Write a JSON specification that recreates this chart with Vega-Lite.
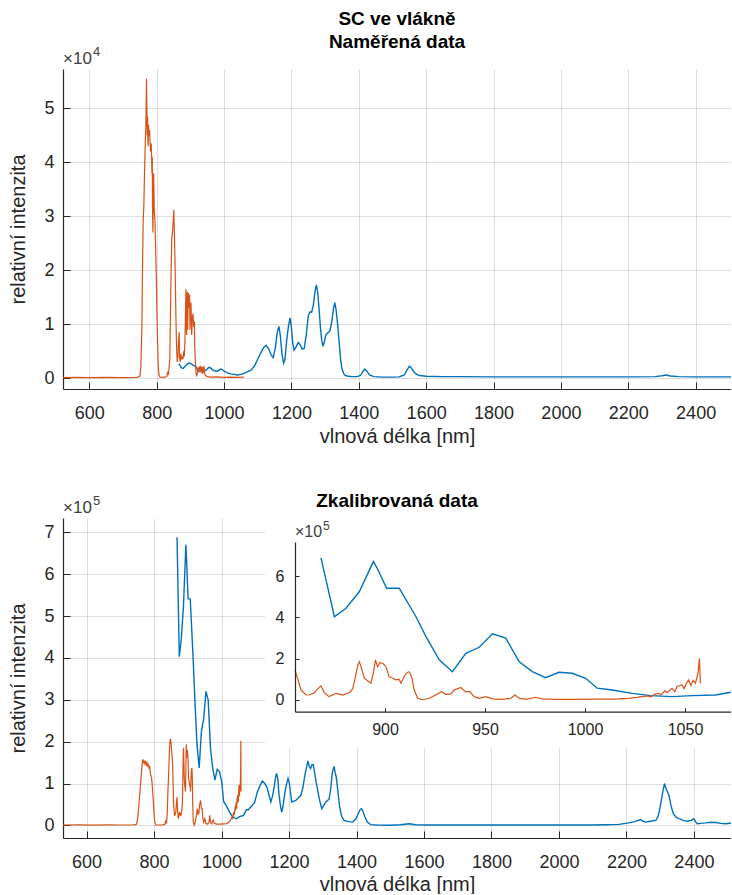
{
  "$schema": "https://vega.github.io/schema/vega-lite/v6.json",
  "background": "white",
  "padding": {"left": 8, "top": 10, "right": 0, "bottom": 0},
  "config": {
    "font": "Liberation Sans",
    "view": {"stroke": null},
    "axis": {
      "domainColor": "#262626", "domainWidth": 1.2,
      "tickColor": "#262626", "tickSize": -7,
      "labelColor": "#262626", "labelFontSize": 18, "labelFont": "Liberation Sans",
      "titleColor": "#262626", "titleFontSize": 20, "titleFontWeight": "normal", "titleFont": "Liberation Sans",
      "gridColor": "#262626", "gridOpacity": 0.15,
      "labelFlush": false, "labelOverlap": false
    },
    "title": {"fontSize": 19, "fontWeight": "bold", "color": "#000000", "font": "Liberation Sans", "anchor": "middle", "frame": "group"}
  },
  "datasets": {
    "rawOrange": [
      {"nm":522,"I":100},{"nm":560,"I":150},{"nm":600,"I":100},{"nm":650,"I":150},{"nm":700,"I":120},{"nm":740,"I":150},{"nm":750,"I":300},
      {"nm":753,"I":2000},{"nm":756,"I":9000},{"nm":758,"I":20000},{"nm":760,"I":29000},{"nm":762,"I":32000},{"nm":764,"I":38000},{"nm":766,"I":43000},
      {"nm":768,"I":47000},{"nm":770,"I":55500},{"nm":771,"I":50000},{"nm":772,"I":45000},{"nm":773,"I":48500},{"nm":774,"I":44000},{"nm":775,"I":43000},
      {"nm":776,"I":47000},{"nm":777,"I":45000},{"nm":779,"I":46000},{"nm":780,"I":44500},{"nm":782,"I":42000},{"nm":784,"I":43500},{"nm":786,"I":38000},
      {"nm":787,"I":41000},{"nm":788,"I":30000},{"nm":789,"I":27000},{"nm":790,"I":35000},{"nm":791,"I":38000},{"nm":793,"I":31000},{"nm":795,"I":29000},
      {"nm":797,"I":24000},{"nm":799,"I":19000},{"nm":801,"I":12000},{"nm":803,"I":6000},{"nm":805,"I":2000},{"nm":807,"I":600},{"nm":810,"I":200},
      {"nm":820,"I":150},{"nm":830,"I":300},{"nm":833,"I":1200},{"nm":835,"I":600},{"nm":837,"I":2000},{"nm":839,"I":3500},{"nm":841,"I":12000},
      {"nm":843,"I":20000},{"nm":845,"I":26000},{"nm":847,"I":27000},{"nm":849,"I":29000},{"nm":851,"I":31200},{"nm":853,"I":26000},{"nm":855,"I":20000},
      {"nm":857,"I":12000},{"nm":859,"I":6000},{"nm":861,"I":3000},{"nm":863,"I":4000},{"nm":865,"I":7000},{"nm":867,"I":8500},{"nm":868,"I":4000},
      {"nm":870,"I":3000},{"nm":872,"I":4500},{"nm":874,"I":3500},{"nm":876,"I":4000},{"nm":878,"I":3500},{"nm":880,"I":5000},{"nm":882,"I":4000},
      {"nm":884,"I":7000},{"nm":886,"I":13000},{"nm":887,"I":16500},{"nm":888,"I":10000},{"nm":889,"I":8000},{"nm":890,"I":14000},{"nm":891,"I":16000},
      {"nm":892,"I":9000},{"nm":894,"I":15800},{"nm":896,"I":13000},{"nm":898,"I":15500},{"nm":899,"I":9000},{"nm":900,"I":12000},{"nm":902,"I":14000},
      {"nm":904,"I":8000},{"nm":906,"I":11000},{"nm":908,"I":12000},{"nm":910,"I":9500},{"nm":912,"I":10500},{"nm":913,"I":6000},{"nm":915,"I":3000},
      {"nm":917,"I":1000},{"nm":919,"I":500},{"nm":921,"I":800},{"nm":923,"I":2000},{"nm":925,"I":1500},{"nm":927,"I":2200},{"nm":929,"I":1200},
      {"nm":931,"I":2300},{"nm":933,"I":1000},{"nm":935,"I":2000},{"nm":937,"I":800},{"nm":940,"I":2300},{"nm":942,"I":1000},{"nm":945,"I":500},
      {"nm":950,"I":300},{"nm":960,"I":200},{"nm":980,"I":250},{"nm":1000,"I":150},{"nm":1020,"I":200},{"nm":1040,"I":150},{"nm":1059,"I":200}
    ],
    "rawBlue": [
      {"nm":866,"I":2700},{"nm":870,"I":2300},{"nm":874,"I":1900},{"nm":878,"I":1800},{"nm":882,"I":2000},{"nm":886,"I":2300},{"nm":891,"I":2600},
      {"nm":896,"I":2800},{"nm":900,"I":2750},{"nm":904,"I":2600},{"nm":908,"I":2400},{"nm":912,"I":2300},{"nm":916,"I":2200},{"nm":920,"I":1700},
      {"nm":924,"I":1300},{"nm":928,"I":1200},{"nm":932,"I":1500},{"nm":936,"I":1900},{"nm":940,"I":1700},{"nm":945,"I":1400},{"nm":950,"I":1700},
      {"nm":955,"I":2000},{"nm":960,"I":1900},{"nm":965,"I":1600},{"nm":970,"I":1400},{"nm":975,"I":1300},{"nm":980,"I":1300},{"nm":985,"I":1500},
      {"nm":990,"I":1700},{"nm":995,"I":1600},{"nm":1000,"I":1300},{"nm":1010,"I":1000},{"nm":1020,"I":800},{"nm":1030,"I":700},{"nm":1040,"I":600},
      {"nm":1050,"I":700},{"nm":1060,"I":900},{"nm":1070,"I":1200},{"nm":1080,"I":1500},{"nm":1090,"I":2200},{"nm":1100,"I":3500},{"nm":1110,"I":4800},
      {"nm":1118,"I":5700},{"nm":1125,"I":6100},{"nm":1132,"I":5500},{"nm":1140,"I":4300},{"nm":1146,"I":3800},{"nm":1152,"I":5500},{"nm":1158,"I":8500},
      {"nm":1163,"I":9600},{"nm":1167,"I":8000},{"nm":1172,"I":4500},{"nm":1177,"I":2800},{"nm":1181,"I":3500},{"nm":1186,"I":7000},{"nm":1191,"I":9500},
      {"nm":1196,"I":11200},{"nm":1200,"I":9500},{"nm":1204,"I":6500},{"nm":1208,"I":5200},{"nm":1214,"I":5800},{"nm":1220,"I":6600},{"nm":1226,"I":6200},
      {"nm":1232,"I":5400},{"nm":1238,"I":5500},{"nm":1244,"I":8000},{"nm":1250,"I":11500},{"nm":1255,"I":12300},{"nm":1260,"I":12200},{"nm":1265,"I":13500},
      {"nm":1270,"I":16000},{"nm":1274,"I":17300},{"nm":1278,"I":16000},{"nm":1282,"I":13000},{"nm":1286,"I":9500},{"nm":1290,"I":7000},{"nm":1294,"I":5900},
      {"nm":1298,"I":6800},{"nm":1302,"I":8000},{"nm":1308,"I":8400},{"nm":1314,"I":8700},{"nm":1320,"I":10500},{"nm":1325,"I":13000},{"nm":1329,"I":14000},
      {"nm":1333,"I":12500},{"nm":1338,"I":9500},{"nm":1342,"I":6500},{"nm":1346,"I":3500},{"nm":1350,"I":1800},{"nm":1355,"I":900},{"nm":1360,"I":500},
      {"nm":1370,"I":350},{"nm":1380,"I":300},{"nm":1395,"I":300},{"nm":1405,"I":500},{"nm":1412,"I":1200},{"nm":1418,"I":1700},{"nm":1424,"I":1300},
      {"nm":1432,"I":600},{"nm":1445,"I":300},{"nm":1470,"I":200},{"nm":1500,"I":200},{"nm":1520,"I":250},{"nm":1535,"I":600},{"nm":1543,"I":1500},
      {"nm":1550,"I":2200},{"nm":1555,"I":2000},{"nm":1562,"I":1300},{"nm":1570,"I":800},{"nm":1580,"I":500},{"nm":1600,"I":350},{"nm":1650,"I":300},
      {"nm":1700,"I":300},{"nm":1800,"I":250},{"nm":1900,"I":250},{"nm":2000,"I":250},{"nm":2100,"I":250},{"nm":2200,"I":250},{"nm":2280,"I":300},
      {"nm":2300,"I":450},{"nm":2312,"I":600},{"nm":2325,"I":400},{"nm":2350,"I":300},{"nm":2400,"I":250},{"nm":2450,"I":250},{"nm":2505,"I":250}
    ],
    "calOrange": [
      {"nm":530,"I":1000},{"nm":580,"I":1500},{"nm":620,"I":800},{"nm":660,"I":1200},{"nm":700,"I":1000},{"nm":740,"I":1500},{"nm":748,"I":3000},
      {"nm":752,"I":20000},{"nm":756,"I":60000},{"nm":760,"I":100000},{"nm":763,"I":130000},{"nm":765,"I":150000},{"nm":767,"I":158000},{"nm":769,"I":148000},
      {"nm":771,"I":155000},{"nm":773,"I":147000},{"nm":775,"I":152000},{"nm":777,"I":145000},{"nm":779,"I":150000},{"nm":781,"I":142000},{"nm":783,"I":145000},
      {"nm":785,"I":138000},{"nm":787,"I":140000},{"nm":789,"I":125000},{"nm":791,"I":118000},{"nm":793,"I":110000},{"nm":795,"I":90000},{"nm":797,"I":65000},
      {"nm":799,"I":40000},{"nm":801,"I":15000},{"nm":803,"I":5000},{"nm":806,"I":1500},{"nm":815,"I":1000},{"nm":825,"I":1500},{"nm":832,"I":3000},
      {"nm":835,"I":12000},{"nm":837,"I":5000},{"nm":839,"I":30000},{"nm":841,"I":80000},{"nm":843,"I":120000},{"nm":845,"I":170000},{"nm":847,"I":200000},
      {"nm":849,"I":207000},{"nm":851,"I":190000},{"nm":853,"I":170000},{"nm":855,"I":145000},{"nm":856.5,"I":97000},{"nm":858,"I":48000},{"nm":860.5,"I":24000},
      {"nm":862,"I":25000},{"nm":864.5,"I":32000},{"nm":866,"I":50000},{"nm":868,"I":68000},{"nm":869.7,"I":35000},{"nm":872,"I":16000},{"nm":874,"I":25000},
      {"nm":875.5,"I":32000},{"nm":877,"I":28000},{"nm":879,"I":23000},{"nm":880.5,"I":30000},{"nm":882,"I":35000},{"nm":883.8,"I":52000},{"nm":884.5,"I":80000},
      {"nm":885.5,"I":129000},{"nm":886.5,"I":170000},{"nm":887.2,"I":185000},{"nm":888,"I":160000},{"nm":888.5,"I":145000},{"nm":889.7,"I":105000},
      {"nm":891.3,"I":93000},{"nm":893,"I":81000},{"nm":894.3,"I":137000},{"nm":895.2,"I":194000},{"nm":896.3,"I":161000},{"nm":897.5,"I":181000},
      {"nm":898.5,"I":178000},{"nm":899.2,"I":174000},{"nm":900.5,"I":161000},{"nm":902.1,"I":113000},{"nm":903.8,"I":105000},{"nm":905.5,"I":97000},
      {"nm":907,"I":100000},{"nm":908,"I":81000},{"nm":909.1,"I":105000},{"nm":910.5,"I":129000},{"nm":911.8,"I":137000},{"nm":912.5,"I":130000},
      {"nm":913.5,"I":105000},{"nm":914.6,"I":48000},{"nm":916.3,"I":8000},{"nm":918.8,"I":1000},{"nm":922.1,"I":8000},{"nm":925.4,"I":24000},
      {"nm":928.2,"I":40000},{"nm":930.4,"I":27000},{"nm":932.9,"I":29000},{"nm":934.6,"I":48000},{"nm":936.5,"I":55000},{"nm":937.9,"I":60000},
      {"nm":940.1,"I":40000},{"nm":942.4,"I":40000},{"nm":944.6,"I":16000},{"nm":947.1,"I":8000},{"nm":950.4,"I":16000},{"nm":953.7,"I":5000},
      {"nm":958.7,"I":3000},{"nm":962.9,"I":8000},{"nm":965,"I":24000},{"nm":967.4,"I":6000},{"nm":971,"I":4000},{"nm":975.3,"I":13000},{"nm":978.6,"I":5000},
      {"nm":985,"I":3000},{"nm":995,"I":3000},{"nm":1005,"I":3500},{"nm":1015,"I":4000},{"nm":1022,"I":8000},{"nm":1026,"I":12000},{"nm":1028.5,"I":16000},
      {"nm":1031,"I":20000},{"nm":1033,"I":15000},{"nm":1035,"I":28000},{"nm":1036.9,"I":32000},{"nm":1038,"I":25000},{"nm":1040,"I":45000},{"nm":1041,"I":35000},
      {"nm":1043.5,"I":56000},{"nm":1045,"I":40000},{"nm":1046,"I":65000},{"nm":1048.5,"I":73000},{"nm":1049.5,"I":55000},{"nm":1051,"I":85000},
      {"nm":1051.8,"I":97000},{"nm":1053,"I":70000},{"nm":1054,"I":95000},{"nm":1055.2,"I":81000},{"nm":1056,"I":110000},{"nm":1056.5,"I":129000},
      {"nm":1057.2,"I":202000},{"nm":1057.7,"I":81000}
    ],
    "calBlue": [
      {"nm":868,"I":688000},{"nm":874.7,"I":403000},{"nm":880.5,"I":444000},{"nm":887.2,"I":525000},{"nm":894.2,"I":670000},
      {"nm":896,"I":640000},{"nm":900.8,"I":541000},{"nm":907.1,"I":541000},{"nm":915.5,"I":403000},{"nm":920.5,"I":307000},{"nm":927.1,"I":194000},
      {"nm":933.7,"I":137000},{"nm":940.4,"I":226000},{"nm":947.1,"I":255000},{"nm":953.7,"I":320000},{"nm":960.4,"I":299000},{"nm":967.1,"I":185000},
      {"nm":973.7,"I":137000},{"nm":980.3,"I":108000},{"nm":987,"I":134000},{"nm":993.6,"I":129000},{"nm":1000.3,"I":105000},{"nm":1006.1,"I":57000},
      {"nm":1013.6,"I":48000},{"nm":1023.6,"I":32000},{"nm":1032.8,"I":21000},{"nm":1043.5,"I":16000},{"nm":1053.5,"I":21000},{"nm":1065.2,"I":24000},
      {"nm":1072.9,"I":37000},{"nm":1080,"I":38000},{"nm":1091,"I":48000},{"nm":1098,"I":55000},{"nm":1106,"I":80000},{"nm":1114,"I":95000},
      {"nm":1121,"I":106000},{"nm":1128,"I":100000},{"nm":1134,"I":92000},{"nm":1140,"I":75000},{"nm":1146,"I":56000},{"nm":1151,"I":70000},
      {"nm":1156,"I":92000},{"nm":1160,"I":115000},{"nm":1163,"I":124000},{"nm":1167,"I":110000},{"nm":1170,"I":76000},{"nm":1174,"I":50000},
      {"nm":1178,"I":32000},{"nm":1182,"I":45000},{"nm":1188,"I":80000},{"nm":1193,"I":100000},{"nm":1197,"I":112000},{"nm":1201,"I":100000},
      {"nm":1205,"I":75000},{"nm":1208,"I":56000},{"nm":1214,"I":58000},{"nm":1220,"I":60000},{"nm":1228,"I":66000},{"nm":1235,"I":72000},
      {"nm":1241,"I":90000},{"nm":1247,"I":120000},{"nm":1252,"I":140000},{"nm":1256,"I":154000},{"nm":1260,"I":140000},{"nm":1264,"I":136000},
      {"nm":1268,"I":145000},{"nm":1272,"I":145000},{"nm":1276,"I":125000},{"nm":1280,"I":105000},{"nm":1284,"I":88000},{"nm":1290,"I":62000},
      {"nm":1297,"I":40000},{"nm":1303,"I":48000},{"nm":1309,"I":56000},{"nm":1315,"I":60000},{"nm":1319,"I":64000},{"nm":1324,"I":90000},
      {"nm":1328,"I":125000},{"nm":1333,"I":141000},{"nm":1337,"I":125000},{"nm":1340,"I":116000},{"nm":1345,"I":80000},{"nm":1350,"I":44000},
      {"nm":1356,"I":22000},{"nm":1363,"I":12000},{"nm":1375,"I":9000},{"nm":1388,"I":8000},{"nm":1398,"I":15000},{"nm":1405,"I":28000},
      {"nm":1411,"I":38000},{"nm":1415,"I":40000},{"nm":1420,"I":32000},{"nm":1425,"I":20000},{"nm":1432,"I":8000},{"nm":1442,"I":2000},
      {"nm":1460,"I":1000},{"nm":1500,"I":500},{"nm":1530,"I":1500},{"nm":1556,"I":4000},{"nm":1575,"I":1500},{"nm":1600,"I":1000},{"nm":1700,"I":1000},
      {"nm":1800,"I":1000},{"nm":1900,"I":1000},{"nm":2000,"I":1000},{"nm":2100,"I":1200},{"nm":2138,"I":1500},{"nm":2178,"I":2500},{"nm":2207,"I":6000},
      {"nm":2225,"I":9000},{"nm":2242,"I":14000},{"nm":2250,"I":10000},{"nm":2257,"I":8000},{"nm":2270,"I":10000},{"nm":2287,"I":12000},{"nm":2294,"I":22000},
      {"nm":2298,"I":36000},{"nm":2304,"I":62000},{"nm":2310,"I":90000},{"nm":2313,"I":100000},{"nm":2317,"I":88000},{"nm":2322,"I":80000},
      {"nm":2326,"I":72000},{"nm":2332,"I":48000},{"nm":2339,"I":28000},{"nm":2348,"I":19000},{"nm":2356,"I":16000},{"nm":2368,"I":12000},
      {"nm":2380,"I":10000},{"nm":2392,"I":12000},{"nm":2400,"I":16000},{"nm":2405,"I":9000},{"nm":2410,"I":4000},{"nm":2420,"I":5000},{"nm":2435,"I":6000},
      {"nm":2450,"I":7500},{"nm":2465,"I":7000},{"nm":2480,"I":5000},{"nm":2494,"I":4000},{"nm":2510,"I":6000}
    ]
  },
  "spacing": 46,
  "vconcat": [
    {
      "title": {"text": ["SC ve vlákně", "Naměřená data"], "offset": -6, "lineHeight": 23},
      "width": 668,
      "height": 320,
      "layer": [
        {
          "data": {"name": "rawBlue"},
          "mark": {"type": "line", "color": "#0072BD", "strokeWidth": 1.4, "clip": true},
          "encoding": {
            "x": {"field": "nm", "type": "quantitative",
                  "scale": {"domain": [522, 2505], "nice": false, "zero": false},
                  "axis": {"orient": "bottom", "values": [600,800,1000,1200,1400,1600,1800,2000,2200,2400], "format": "d",
                           "title": "vlnová délka [nm]", "labelPadding": 22, "minExtent": 33, "maxExtent": 33, "titlePadding": 4}},
            "y": {"field": "I", "type": "quantitative",
                  "scale": {"domain": [-2000, 57300], "nice": false, "zero": false},
                  "axis": {"orient": "left", "values": [0,10000,20000,30000,40000,50000], "labelExpr": "datum.value / 10000",
                           "title": "relativní intenzita", "labelPadding": 16, "minExtent": 25, "maxExtent": 25, "titlePadding": 10}}
          }
        },
        {
          "data": {"name": "rawOrange"},
          "mark": {"type": "line", "color": "#D95319", "strokeWidth": 1.2, "clip": true},
          "encoding": {
            "x": {"field": "nm", "type": "quantitative"},
            "y": {"field": "I", "type": "quantitative"}
          }
        },
        {
          "data": {"values": [{"t": "×10"}]},
          "mark": {"type": "text", "align": "left", "baseline": "alphabetic", "dy": -5, "fontSize": 17, "color": "#404040"},
          "encoding": {
            "text": {"field": "t"},
            "x": {"datum": 522, "type": "quantitative"},
            "y": {"datum": 57300, "type": "quantitative"}
          }
        },
        {
          "data": {"values": [{"t": "4"}]},
          "mark": {"type": "text", "align": "left", "baseline": "alphabetic", "dx": 30, "dy": -13, "fontSize": 13, "color": "#404040"},
          "encoding": {
            "text": {"field": "t"},
            "x": {"datum": 522, "type": "quantitative"},
            "y": {"datum": 57300, "type": "quantitative"}
          }
        }
      ]
    },
    {
      "title": {"text": "Zkalibrovaná data", "offset": -16},
      "width": 668,
      "height": 320,
      "resolve": {"scale": {"x": "independent", "y": "independent"}},
      "layer": [
        {
          "layer": [
            {
              "data": {"name": "calBlue"},
              "mark": {"type": "line", "color": "#0072BD", "strokeWidth": 1.4, "clip": true},
              "encoding": {
                "x": {"field": "nm", "type": "quantitative",
                      "scale": {"domain": [530, 2510], "nice": false, "zero": false},
                      "axis": {"orient": "bottom", "values": [600,800,1000,1200,1400,1600,1800,2000,2200,2400], "format": "d",
                               "title": "vlnová délka [nm]", "labelPadding": 22, "minExtent": 33, "maxExtent": 33, "titlePadding": 3}},
                "y": {"field": "I", "type": "quantitative",
                      "scale": {"domain": [-30000, 734000], "nice": false, "zero": false},
                      "axis": {"orient": "left", "values": [0,100000,200000,300000,400000,500000,600000,700000], "labelExpr": "datum.value / 100000",
                               "title": "relativní intenzita", "labelPadding": 16, "minExtent": 25, "maxExtent": 25, "titlePadding": 10}}
              }
            },
            {
              "data": {"name": "calOrange"},
              "mark": {"type": "line", "color": "#D95319", "strokeWidth": 1.2, "clip": true},
              "encoding": {
                "x": {"field": "nm", "type": "quantitative"},
                "y": {"field": "I", "type": "quantitative"}
              }
            },
            {
              "data": {"values": [{"t": "×10"}]},
              "mark": {"type": "text", "align": "left", "baseline": "alphabetic", "dy": -5, "fontSize": 17, "color": "#404040"},
              "encoding": {
                "text": {"field": "t"},
                "x": {"datum": 530, "type": "quantitative"},
                "y": {"datum": 734000, "type": "quantitative"}
              }
            },
            {
              "data": {"values": [{"t": "5"}]},
              "mark": {"type": "text", "align": "left", "baseline": "alphabetic", "dx": 30, "dy": -13, "fontSize": 13, "color": "#404040"},
              "encoding": {
                "text": {"field": "t"},
                "x": {"datum": 530, "type": "quantitative"},
                "y": {"datum": 734000, "type": "quantitative"}
              }
            }
          ]
        },
        {
          "layer": [
            {
              "data": {"values": [{}]},
              "mark": {"type": "rect", "color": "white", "clip": true},
              "encoding": {
                "x": {"datum": 840, "type": "quantitative",
                      "scale": {"domain": [855, 1073], "range": [232, 668], "nice": false, "zero": false},
                      "axis": {"orient": "bottom", "offset": -126.3, "values": [900, 950, 1000, 1050], "format": "d", "title": null,
                               "labelFontSize": 16, "tickSize": -4, "labelPadding": 14, "zindex": 1}},
                "x2": {"datum": 1080},
                "y": {"datum": -233000, "type": "quantitative",
                      "scale": {"domain": [-57000, 765000], "range": [193.7, 24], "nice": false, "zero": false},
                      "axis": {"orient": "left", "offset": -232, "values": [0, 200000, 400000, 600000], "labelExpr": "datum.value / 100000", "title": null,
                               "labelFontSize": 16, "tickSize": -4, "labelPadding": 15, "zindex": 1}},
                "y2": {"datum": 881000}
              }
            },
            {
              "data": {"name": "calBlue"},
              "transform": [{"filter": "datum.nm >= 855 && datum.nm <= 1073"}],
              "mark": {"type": "line", "color": "#0072BD", "strokeWidth": 1.4, "clip": true},
              "encoding": {
                "x": {"field": "nm", "type": "quantitative"},
                "y": {"field": "I", "type": "quantitative"}
              }
            },
            {
              "data": {"name": "calOrange"},
              "transform": [{"filter": "datum.nm >= 855 && datum.nm <= 1073"}],
              "mark": {"type": "line", "color": "#D95319", "strokeWidth": 1.2, "clip": true},
              "encoding": {
                "x": {"field": "nm", "type": "quantitative"},
                "y": {"field": "I", "type": "quantitative"}
              }
            },
            {
              "data": {"values": [{"t": "×10"}]},
              "mark": {"type": "text", "align": "left", "baseline": "alphabetic", "dy": -5, "fontSize": 16, "color": "#404040"},
              "encoding": {
                "text": {"field": "t"},
                "x": {"datum": 855, "type": "quantitative"},
                "y": {"datum": 765000, "type": "quantitative"}
              }
            },
            {
              "data": {"values": [{"t": "5"}]},
              "mark": {"type": "text", "align": "left", "baseline": "alphabetic", "dx": 28, "dy": -12, "fontSize": 12, "color": "#404040"},
              "encoding": {
                "text": {"field": "t"},
                "x": {"datum": 855, "type": "quantitative"},
                "y": {"datum": 765000, "type": "quantitative"}
              }
            }
          ]
        }
      ]
    }
  ]
}
